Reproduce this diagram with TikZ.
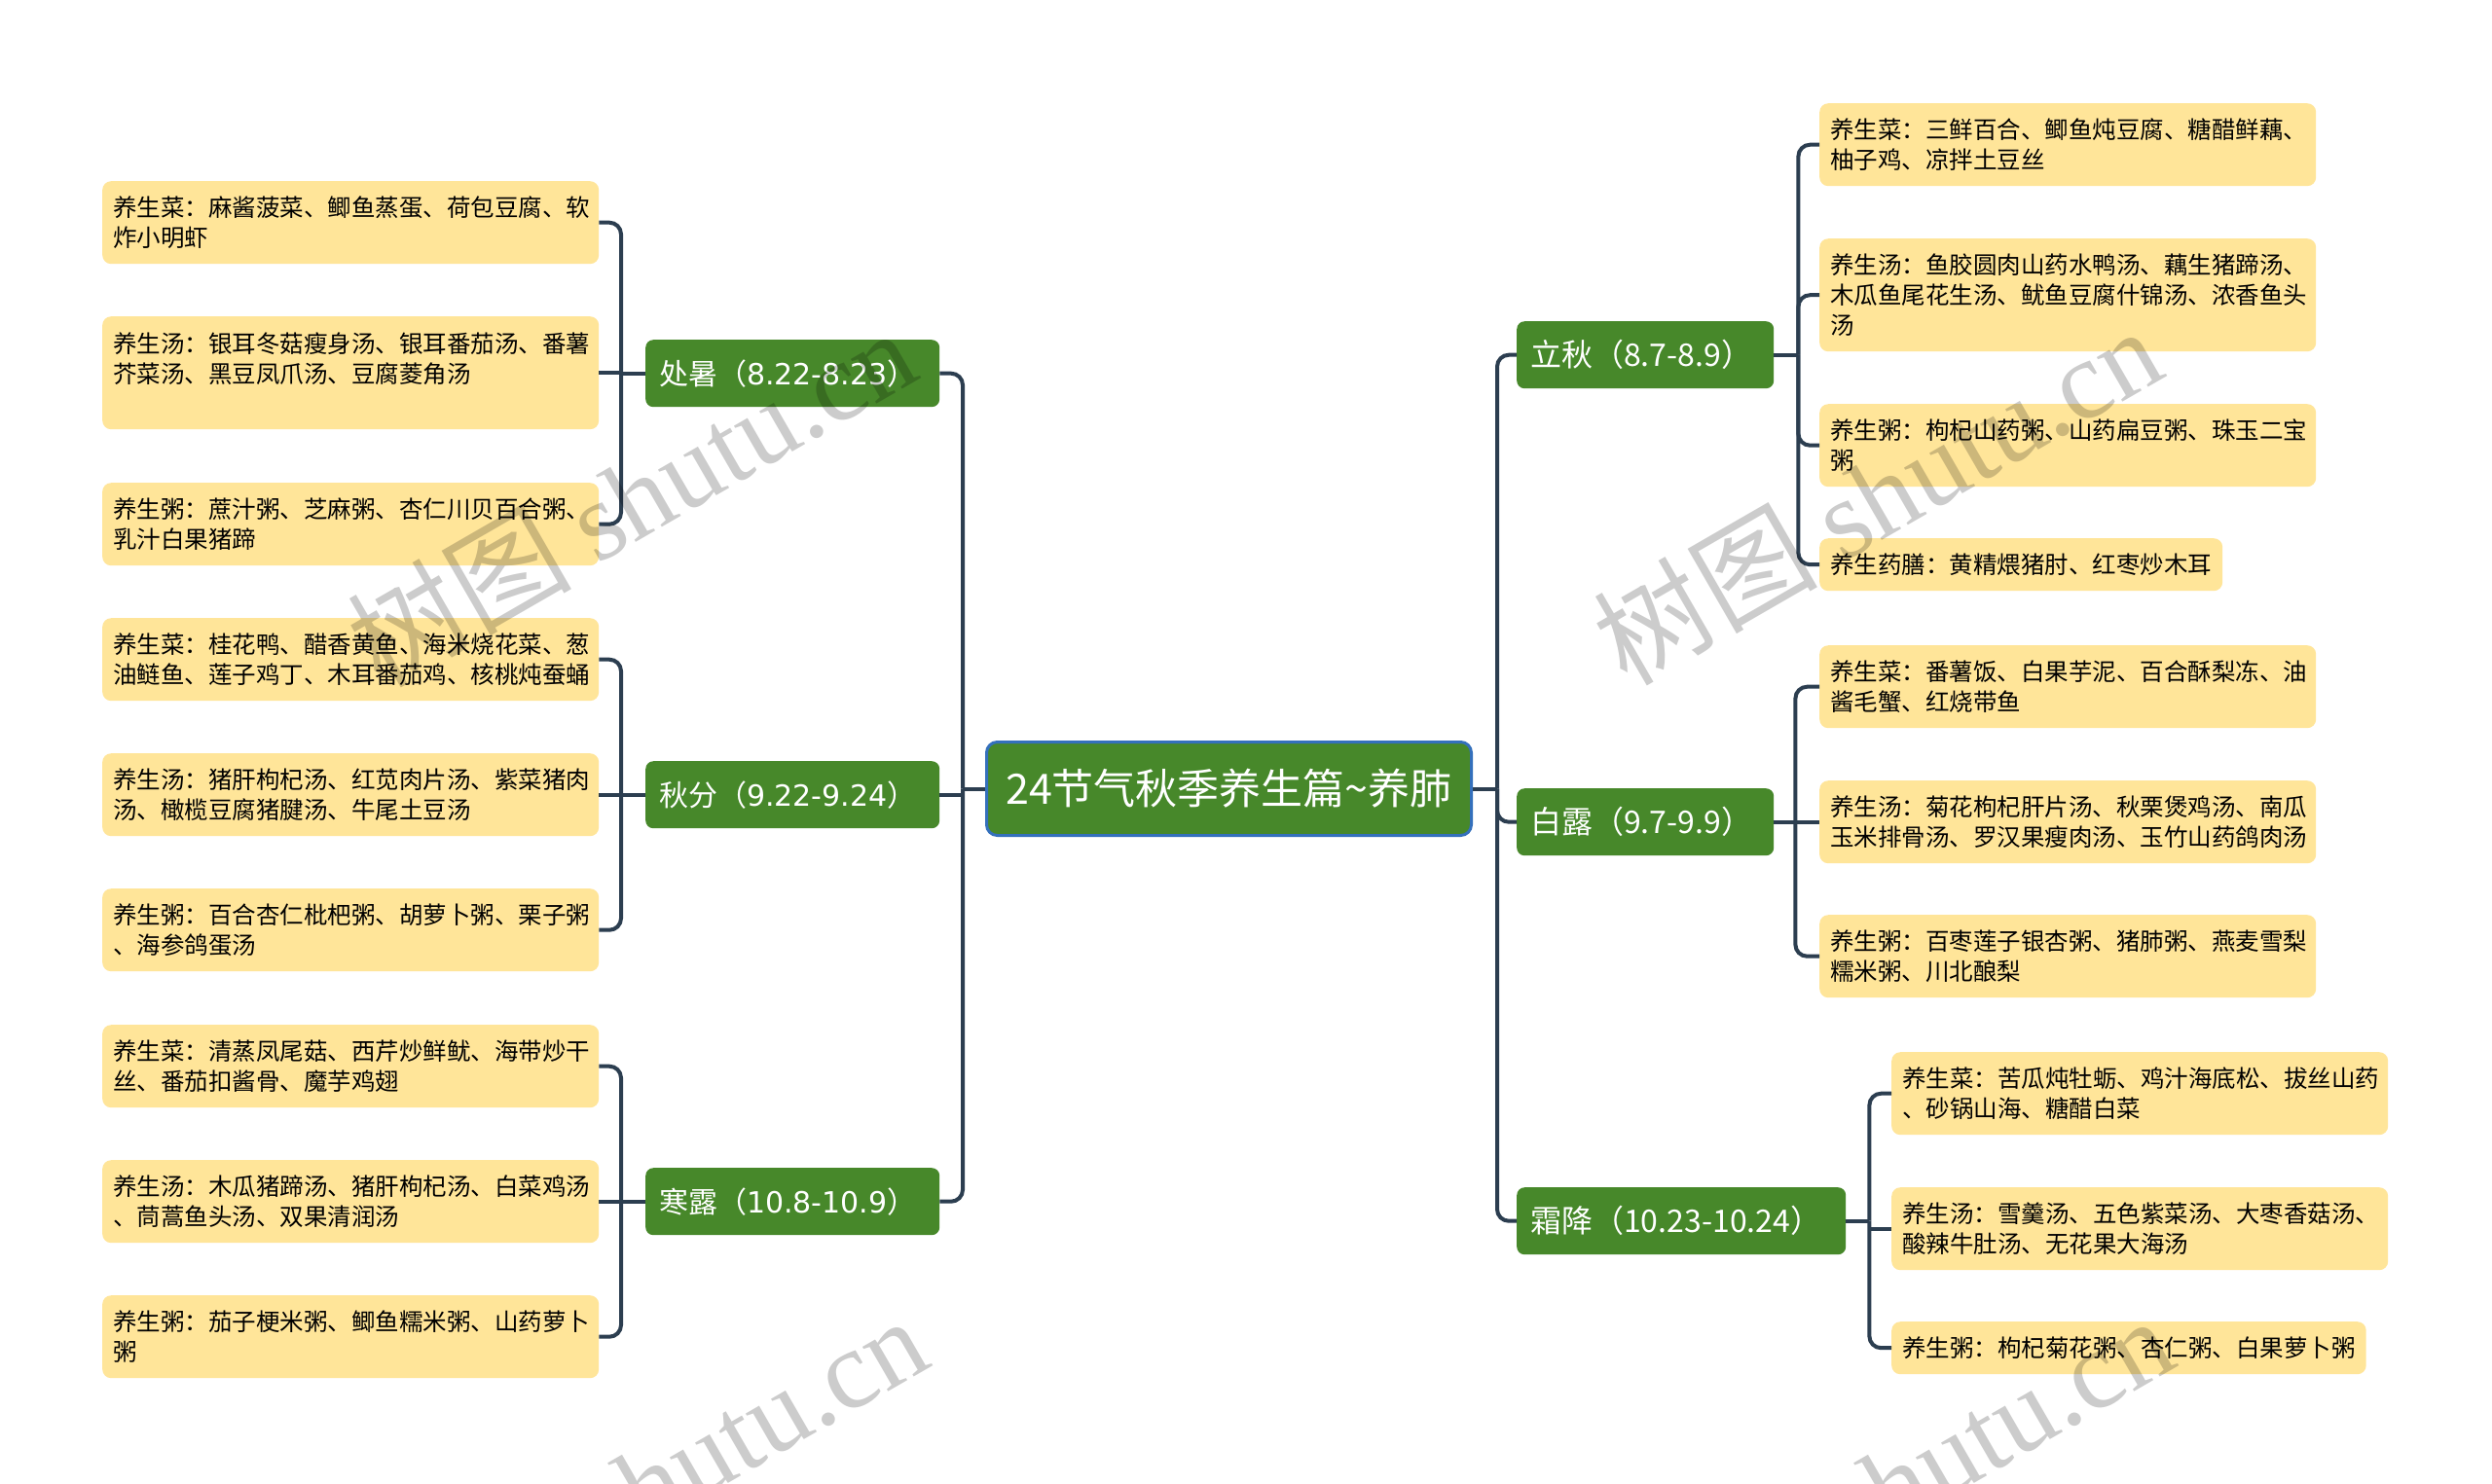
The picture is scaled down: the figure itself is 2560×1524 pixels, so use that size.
\documentclass[tikz,border=0pt]{standalone}
\usepackage{fontspec}
\setmainfont{Noto Sans CJK SC}
\newfontfamily\dv{DejaVu Sans}
\newfontfamily\wmser{Liberation Serif}
\usetikzlibrary{calc}
\definecolor{brgreen}{RGB}{71,136,42}
\definecolor{leafy}{RGB}{255,229,153}
\definecolor{lnc}{RGB}{44,62,80}
\definecolor{rootb}{RGB}{52,112,188}
\tikzset{
  leafbase/.style={fill=leafy, rounded corners=9, anchor=north west, align=left,
    inner xsep=11, inner ysep=0, minimum height=85, text=black,
    font=\fontsize{24.5}{31}\selectfont},
  leaf/.style={leafbase, text width=488},
  leafone/.style={leafbase, minimum height=54},
  branch/.style={fill=brgreen, rounded corners=8, anchor=north west, align=left,
    inner xsep=14, inner ysep=0, minimum height=69, text=white,
    font=\fontsize{30}{36}\selectfont},
  rbranch/.style={branch, font=\fontsize{32}{38}\selectfont},
  rootbox/.style={fill=brgreen, draw=rootb, line width=3, rounded corners=11,
    anchor=north west, minimum width=498, minimum height=96, inner sep=0,
    text=white, font=\fontsize{43}{50}\selectfont},
  conn/.style={draw=lnc, line width=4, rounded corners=12},
  wmark/.style={rotate=30, text=black, text opacity=0.2, inner sep=0,
    font=\fontsize{115}{125}\selectfont},
}
\begin{document}
\begin{tikzpicture}[x=1pt,y=-1pt]
\useasboundingbox (0,0) rectangle (2560,1524);
\fill[white] (0,0) rectangle (2560,1524);

% root
\node[rootbox] (root) at (1012,761) {24节气秋季养生篇\string~养肺};

% left branches
\node[branch, text width=274] (cs) at (663,349) {处暑（{\dv 8.22-8.23}）};
\node[branch, text width=274] (qf) at (663,782) {秋分（{\dv 9.22-9.24}）};
\node[branch, text width=274] (hl) at (663,1200) {寒露（{\dv 10.8-10.9}）};

% right branches
\node[rbranch, text width=236] (lq) at (1558,330) {立秋（8.7-8.9）};
\node[rbranch, text width=236] (bl) at (1558,810) {白露（9.7-9.9）};
\node[rbranch, text width=310] (sj) at (1558,1220) {霜降（10.23-10.24）};

% left leaves
\node[leaf] (cs1) at (105,186) {养生菜：麻酱菠菜、鲫鱼蒸蛋、荷包豆腐、软\\炸小明虾};
\node[leaf, minimum height=116] (cs2) at (105,325) {养生汤：银耳冬菇瘦身汤、银耳番茄汤、番薯\\芥菜汤、黑豆凤爪汤、豆腐菱角汤\\\mbox{}};
\node[leaf] (cs3) at (105,496) {养生粥：蔗汁粥、芝麻粥、杏仁川贝百合粥、\\乳汁白果猪蹄};
\node[leaf] (qf1) at (105,635) {养生菜：桂花鸭、醋香黄鱼、海米烧花菜、葱\\油鲢鱼、莲子鸡丁、木耳番茄鸡、核桃炖蚕蛹};
\node[leaf] (qf2) at (105,774) {养生汤：猪肝枸杞汤、红苋肉片汤、紫菜猪肉\\汤、橄榄豆腐猪腱汤、牛尾土豆汤};
\node[leaf] (qf3) at (105,913) {养生粥：百合杏仁枇杷粥、胡萝卜粥、栗子粥\\、海参鸽蛋汤};
\node[leaf] (hl1) at (105,1053) {养生菜：清蒸凤尾菇、西芹炒鲜鱿、海带炒干\\丝、番茄扣酱骨、魔芋鸡翅};
\node[leaf] (hl2) at (105,1192) {养生汤：木瓜猪蹄汤、猪肝枸杞汤、白菜鸡汤\\、茼蒿鱼头汤、双果清润汤};
\node[leaf] (hl3) at (105,1331) {养生粥：茄子梗米粥、鲫鱼糯米粥、山药萝卜\\粥};

% right leaves
\node[leaf] (lq1) at (1869,106) {养生菜：三鲜百合、鲫鱼炖豆腐、糖醋鲜藕、\\柚子鸡、凉拌土豆丝};
\node[leaf, minimum height=116] (lq2) at (1869,245) {养生汤：鱼胶圆肉山药水鸭汤、藕生猪蹄汤、\\木瓜鱼尾花生汤、鱿鱼豆腐什锦汤、浓香鱼头\\汤};
\node[leaf] (lq3) at (1869,415) {养生粥：枸杞山药粥、山药扁豆粥、珠玉二宝\\粥};
\node[leafone] (lq4) at (1869,553) {养生药膳：黄精煨猪肘、红枣炒木耳};
\node[leaf] (bl1) at (1869,663) {养生菜：番薯饭、白果芋泥、百合酥梨冻、油\\酱毛蟹、红烧带鱼};
\node[leaf] (bl2) at (1869,802) {养生汤：菊花枸杞肝片汤、秋栗煲鸡汤、南瓜\\玉米排骨汤、罗汉果瘦肉汤、玉竹山药鸽肉汤};
\node[leaf] (bl3) at (1869,940) {养生粥：百枣莲子银杏粥、猪肺粥、燕麦雪梨\\糯米粥、川北酿梨};
\node[leaf] (sj1) at (1943,1081) {养生菜：苦瓜炖牡蛎、鸡汁海底松、拔丝山药\\、砂锅山海、糖醋白菜};
\node[leaf] (sj2) at (1943,1220) {养生汤：雪羹汤、五色紫菜汤、大枣香菇汤、\\酸辣牛肚汤、无花果大海汤};
\node[leafone] (sj3) at (1943,1358) {养生粥：枸杞菊花粥、杏仁粥、白果萝卜粥};

% junctions
\coordinate (lj) at ($(root.west)+(-23,0)$);
\coordinate (rj) at ($(root.east)+(25,0)$);
\coordinate (csj) at ($(cs.west)+(-25,0)$);
\coordinate (qfj) at ($(qf.west)+(-25,0)$);
\coordinate (hlj) at ($(hl.west)+(-25,0)$);
\coordinate (lqj) at ($(lq.east)+(25,0)$);
\coordinate (blj) at ($(bl.east)+(22,0)$);
\coordinate (sjj) at ($(sj.east)+(24,0)$);

% root connectors
\draw[conn] (root.west) -- (lj);
\draw[conn] (lj) |- (cs.east);
\draw[conn] (lj) |- (hl.east);
\draw[conn] (qf.east) -- (qf.east -| lj);
\draw[conn] (root.east) -- (rj);
\draw[conn] (rj) |- (lq.west);
\draw[conn] (rj) |- (bl.west);
\draw[conn] (rj) |- (sj.west);

% left groups
\draw[conn] (cs.west) -- (csj);
\draw[conn] (csj) |- (cs1.east);
\draw[conn] (csj) |- (cs3.east);
\draw[conn] (cs2.east) -- (cs2.east -| csj);
\draw[conn] (qf.west) -- (qfj);
\draw[conn] (qfj) |- (qf1.east);
\draw[conn] (qfj) |- (qf3.east);
\draw[conn] (qf2.east) -- (qf2.east -| qfj);
\draw[conn] (hl.west) -- (hlj);
\draw[conn] (hlj) |- (hl1.east);
\draw[conn] (hlj) |- (hl3.east);
\draw[conn] (hl2.east) -- (hl2.east -| hlj);

% right groups
\draw[conn] (lq.east) -- (lqj);
\draw[conn] (lqj) |- (lq1.west);
\draw[conn] (lqj) |- (lq2.west);
\draw[conn] (lqj) |- (lq3.west);
\draw[conn] (lqj) |- (lq4.west);
\draw[conn] (bl.east) -- (blj);
\draw[conn] (blj) |- (bl1.west);
\draw[conn] (blj) |- (bl3.west);
\draw[conn] (bl2.west -| blj) -- (bl2.west);
\draw[conn] (sj.east) -- (sjj);
\draw[conn] (sjj) |- (sj1.west);
\draw[conn] (sjj) |- (sj3.west);
\draw[conn] (sj2.west -| sjj) -- (sj2.west);

% watermarks
\begin{scope}
\clip (0,0) rectangle (2560,1524);
\node[wmark] (wm1) at (648,510) {树图 {\wmser shutu.cn}};
\node[wmark] (wm2) at (1928,508) {树图 {\wmser shutu.cn}};
\node[wmark] (wm3) at (660,1525) {树图 {\wmser shutu.cn}};
\node[wmark] (wm4) at (1940,1525) {树图 {\wmser shutu.cn}};
\end{scope}
\end{tikzpicture}
\end{document}
